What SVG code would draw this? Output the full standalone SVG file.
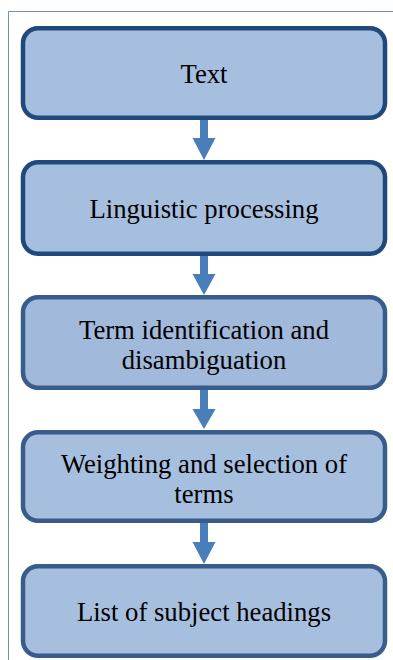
<svg xmlns="http://www.w3.org/2000/svg" width="393" height="660" viewBox="0 0 393 660">
<style>
.box{fill:#A7BFDE;stroke-width:4.5}
.d{stroke:#1F497D}
.l{stroke:#385D8A}
.t{font-family:"Liberation Serif","Times New Roman",serif;font-size:26.7px;fill:#000;text-anchor:middle}
.arr{fill:#4A7EBB}
</style>
<rect width="393" height="660" fill="#fff"/>
<path d="M8.5 660 V11.5 H393" fill="none" stroke="#7590B8" stroke-width="1"/>
<g id="n1"><rect class="box d" x="23" y="28.25" width="362" height="89.5" rx="15"/><text class="t" x="204" y="82.7">Text</text></g>
<g id="n2"><rect class="box d" x="23" y="162.25" width="362" height="91.5" rx="15"/><text class="t" x="204" y="218.3">Linguistic processing</text></g>
<g id="n3"><rect class="box l" x="23" y="297.25" width="362" height="90.5" rx="15" style="fill:#A1B9DB"/><text class="t" x="204" y="339.3">Term identification and</text><text class="t" x="204" y="369.3">disambiguation</text></g>
<g id="n4"><rect class="box l" x="23" y="432.25" width="362" height="88.5" rx="15"/><text class="t" x="204" y="472.7">Weighting and selection of</text><text class="t" x="204" y="502.7">terms</text></g>
<g id="n5"><rect class="box l" x="23" y="566.25" width="362" height="89.5" rx="15"/><text class="t" x="204" y="621">List of subject headings</text></g>
<g id="connectors">
<path class="arr" d="M200 120 H208 V138 H215.5 L204 160 L192.5 138 H200 Z"/>
<path class="arr" d="M200 256 H208 V274 H215.5 L204 295 L192.5 274 H200 Z"/>
<path class="arr" d="M200 390 H208 V409 H215.5 L204 429 L192.5 409 H200 Z"/>
<path class="arr" d="M200 523 H208 V542 H215.5 L204 564 L192.5 542 H200 Z"/>
</g>
</svg>
